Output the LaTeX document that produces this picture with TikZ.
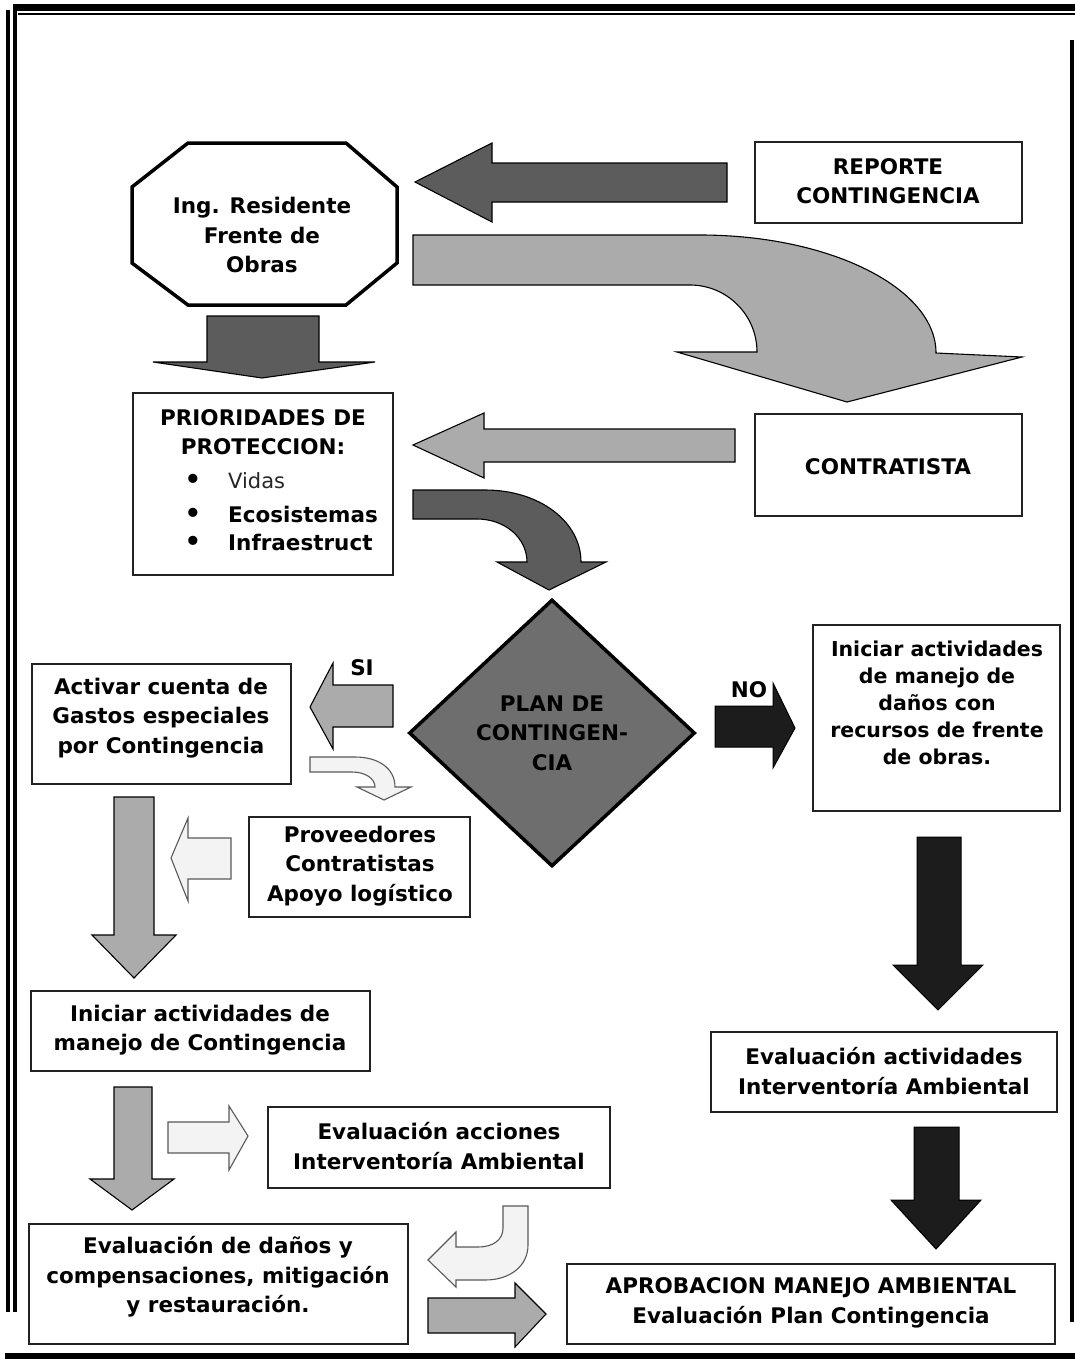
\documentclass[tikz,border=0pt]{standalone}
\usepackage{fontspec}
\setmainfont{DejaVu Sans}
\usetikzlibrary{shapes.geometric}
\definecolor{dk}{HTML}{5C5C5C}
\definecolor{lt}{HTML}{ABABAB}
\definecolor{dia}{HTML}{6E6E6E}
\definecolor{bk}{HTML}{1C1C1C}
\definecolor{wt}{HTML}{F3F3F3}
\definecolor{edge}{HTML}{222222}
\newcommand\mainfs{\fontsize{21.5}{29.5}\selectfont\bfseries}
\newcommand\smallfs{\fontsize{20.5}{27}\selectfont\bfseries}
\begin{document}
\begin{tikzpicture}[x=1pt,y=-1pt,
  box/.style={draw=edge, line width=1.4pt, fill=white, inner sep=0pt},
  txt/.style={font=\mainfs, align=center, inner sep=0pt, text=black},
  bul/.style={font=\fontsize{26}{29.5}\selectfont\bfseries, inner sep=0pt},
  darrow/.style={fill=dk, draw=black, line width=1.1pt, line join=miter},
  larrow/.style={fill=lt, draw=black, line width=1.1pt, line join=miter},
  warrow/.style={fill=wt, draw=black!65, line width=1.1pt, line join=miter},
  barrow/.style={fill=bk, draw=black, line width=1pt, line join=miter},
  frame/.style={draw=black, line cap=butt}
]
\useasboundingbox (0,0) rectangle (1075,1360);
\fill[white] (0,0) rectangle (1075,1360);

% frame
\draw[frame, line width=7pt] (13,7) -- (1075,7);
\draw[frame, line width=2pt] (18,14) -- (1075,14);
\draw[frame, line width=4pt] (8,10) -- (8,1312);
\draw[frame, line width=4pt] (15,10) -- (15,1312);
\draw[frame, line width=6pt] (5,1356) -- (1075,1356);
\draw[frame, line width=4pt] (1072,40) -- (1072,1322);

% octagon
\draw[line width=3.5pt, fill=white, line join=miter] (188,143) -- (346,143) -- (397,187) -- (397,263) -- (346,305) -- (188,305) -- (132,263) -- (132,187) -- cycle;
\node[txt] (ing) at (262,235) {Ing. Residente\\Frente de\\Obras};

% boxes
\node[box, minimum width=267pt, minimum height=81pt] (reporte) at (888.5,182.5) {};
\node[txt] (reporteT) at (888,181) {REPORTE\\CONTINGENCIA};

\node[box, minimum width=267pt, minimum height=102pt] (contratista) at (888.5,465) {};
\node[txt] (contratistaT) at (888,467) {CONTRATISTA};

\node[box, minimum width=260pt, minimum height=182pt] (prior) at (263,484) {};
\node[txt] (priorT) at (263,432) {PRIORIDADES DE\\PROTECCION:};
\node[bul] (b1) at (193,481) {•};
\node[bul] (b2) at (193,515) {•};
\node[bul] (b3) at (193,543) {•};
\node[font=\fontsize{21}{29}\selectfont, inner sep=0pt, anchor=west, text=black!85] (vidas) at (228,481) {Vidas};
\node[txt, anchor=west] (eco) at (228,514) {Ecosistemas};
\node[txt, anchor=west] (infra) at (228,542) {Infraestruct};

\node[box, minimum width=259pt, minimum height=120pt] (activar) at (161.5,724) {};
\node[txt] (activarT) at (161,718) {Activar cuenta de\\Gastos especiales\\por Contingencia};

\node[box, minimum width=221pt, minimum height=100pt] (prov) at (359.5,867) {};
\node[txt] (provT) at (360,866) {Proveedores\\Contratistas\\Apoyo logístico};

\node[box, minimum width=339pt, minimum height=80pt] (inicL) at (200.5,1031) {};
\node[txt] (inicLT) at (200,1030) {Iniciar actividades de\\manejo de Contingencia};

\node[box, minimum width=342pt, minimum height=81pt] (evacc) at (439,1147.5) {};
\node[txt] (evaccT) at (439,1146) {Evaluación acciones\\Interventoría Ambiental};

\node[box, minimum width=379pt, minimum height=120pt] (evdan) at (218.5,1284) {};
\node[txt] (evdanT) at (218,1277) {Evaluación de daños y\\compensaciones, mitigación\\y restauración.};

\node[box, minimum width=488pt, minimum height=80pt] (aprob) at (811,1304) {};
\node[txt] (aprobT) at (811,1303) {APROBACION MANEJO AMBIENTAL\\Evaluación Plan Contingencia};

\node[box, minimum width=247pt, minimum height=186pt] (inicR) at (936.5,718) {};
\node[txt, font=\smallfs] (inicRT) at (937,703) {Iniciar actividades\\de manejo de\\daños con\\recursos de frente\\de obras.};

\node[box, minimum width=346pt, minimum height=80pt] (evact) at (884,1072) {};
\node[txt] (evactT) at (884,1071) {Evaluación actividades\\Interventoría Ambiental};

% diamond
\node[diamond, draw=black, line width=3.5pt, fill=dia, minimum width=286pt, minimum height=267pt, inner sep=0pt, font=\mainfs, align=center, text=black] (plan) at (552,733) {PLAN DE\\CONTINGEN-\\CIA};

% labels
\node[txt] (si) at (362,668) {SI};
\node[txt] (no) at (749,690) {NO};

% block arrows
\draw[darrow] (727,163) -- (492,163) -- (492,143) -- (415,182) -- (492,222) -- (492,202) -- (727,202) -- cycle;
\draw[darrow] (207,316) -- (319,316) -- (319,362) -- (375,362) -- (262,378) -- (153,362) -- (207,362) -- cycle;
\draw[larrow] (413,235) -- (700,235) .. controls (830,235) and (936,288) .. (936,353) -- (1022,357) -- (847,402) -- (677,352) -- (757,352) .. controls (757,315) and (727,285) .. (690,285) -- (413,285) -- cycle;
\draw[larrow] (735,429) -- (484,429) -- (484,413) -- (413,445) -- (484,478) -- (484,462) -- (735,462) -- cycle;
\draw[darrow] (413,490) -- (485,490) .. controls (540,490) and (581,522) .. (581,562) -- (606,562) -- (549,590) -- (497,562) -- (527,562) .. controls (527,538) and (505,519) .. (477,519) -- (413,519) -- cycle;
\draw[larrow] (393,685) -- (333,685) -- (333,663) -- (310,707) -- (333,749) -- (333,727) -- (393,727) -- cycle;
\draw[warrow] (310,757) -- (355,757) .. controls (378,757) and (395,768) .. (395,787) -- (411,787) -- (384,800) -- (357,787) -- (375,787) .. controls (375,779) and (366,772) .. (352,772) -- (310,772) -- cycle;
\draw[warrow] (231,838) -- (188,838) -- (188,818) -- (171,858) -- (188,901) -- (188,879) -- (231,879) -- cycle;
\draw[larrow] (114,797) -- (154,797) -- (154,935) -- (176,935) -- (134,978) -- (92,935) -- (114,935) -- cycle;
\draw[larrow] (114,1087) -- (152,1087) -- (152,1179) -- (174,1179) -- (132,1210) -- (90,1179) -- (114,1179) -- cycle;
\draw[warrow] (168,1122) -- (229,1122) -- (229,1106) -- (248,1136) -- (229,1170) -- (229,1153) -- (168,1153) -- cycle;
\draw[warrow] (503,1206) -- (528,1206) -- (528,1245) .. controls (528,1266) and (510,1280) .. (485,1280) -- (456,1280) -- (456,1287) -- (428,1260) -- (456,1232) -- (456,1247) -- (478,1247) .. controls (493,1247) and (503,1240) .. (503,1228) -- cycle;
\draw[larrow] (428,1298) -- (515,1298) -- (515,1283) -- (546,1314) -- (515,1347) -- (515,1333) -- (428,1333) -- cycle;
\draw[barrow] (715,706) -- (773,706) -- (773,683) -- (795,728) -- (773,768) -- (773,747) -- (715,747) -- cycle;
\draw[barrow] (917,837) -- (961,837) -- (961,965) -- (983,965) -- (938,1010) -- (893,965) -- (917,965) -- cycle;
\draw[barrow] (914,1127) -- (959,1127) -- (959,1200) -- (981,1200) -- (936,1249) -- (891,1200) -- (914,1200) -- cycle;
\end{tikzpicture}
\end{document}
